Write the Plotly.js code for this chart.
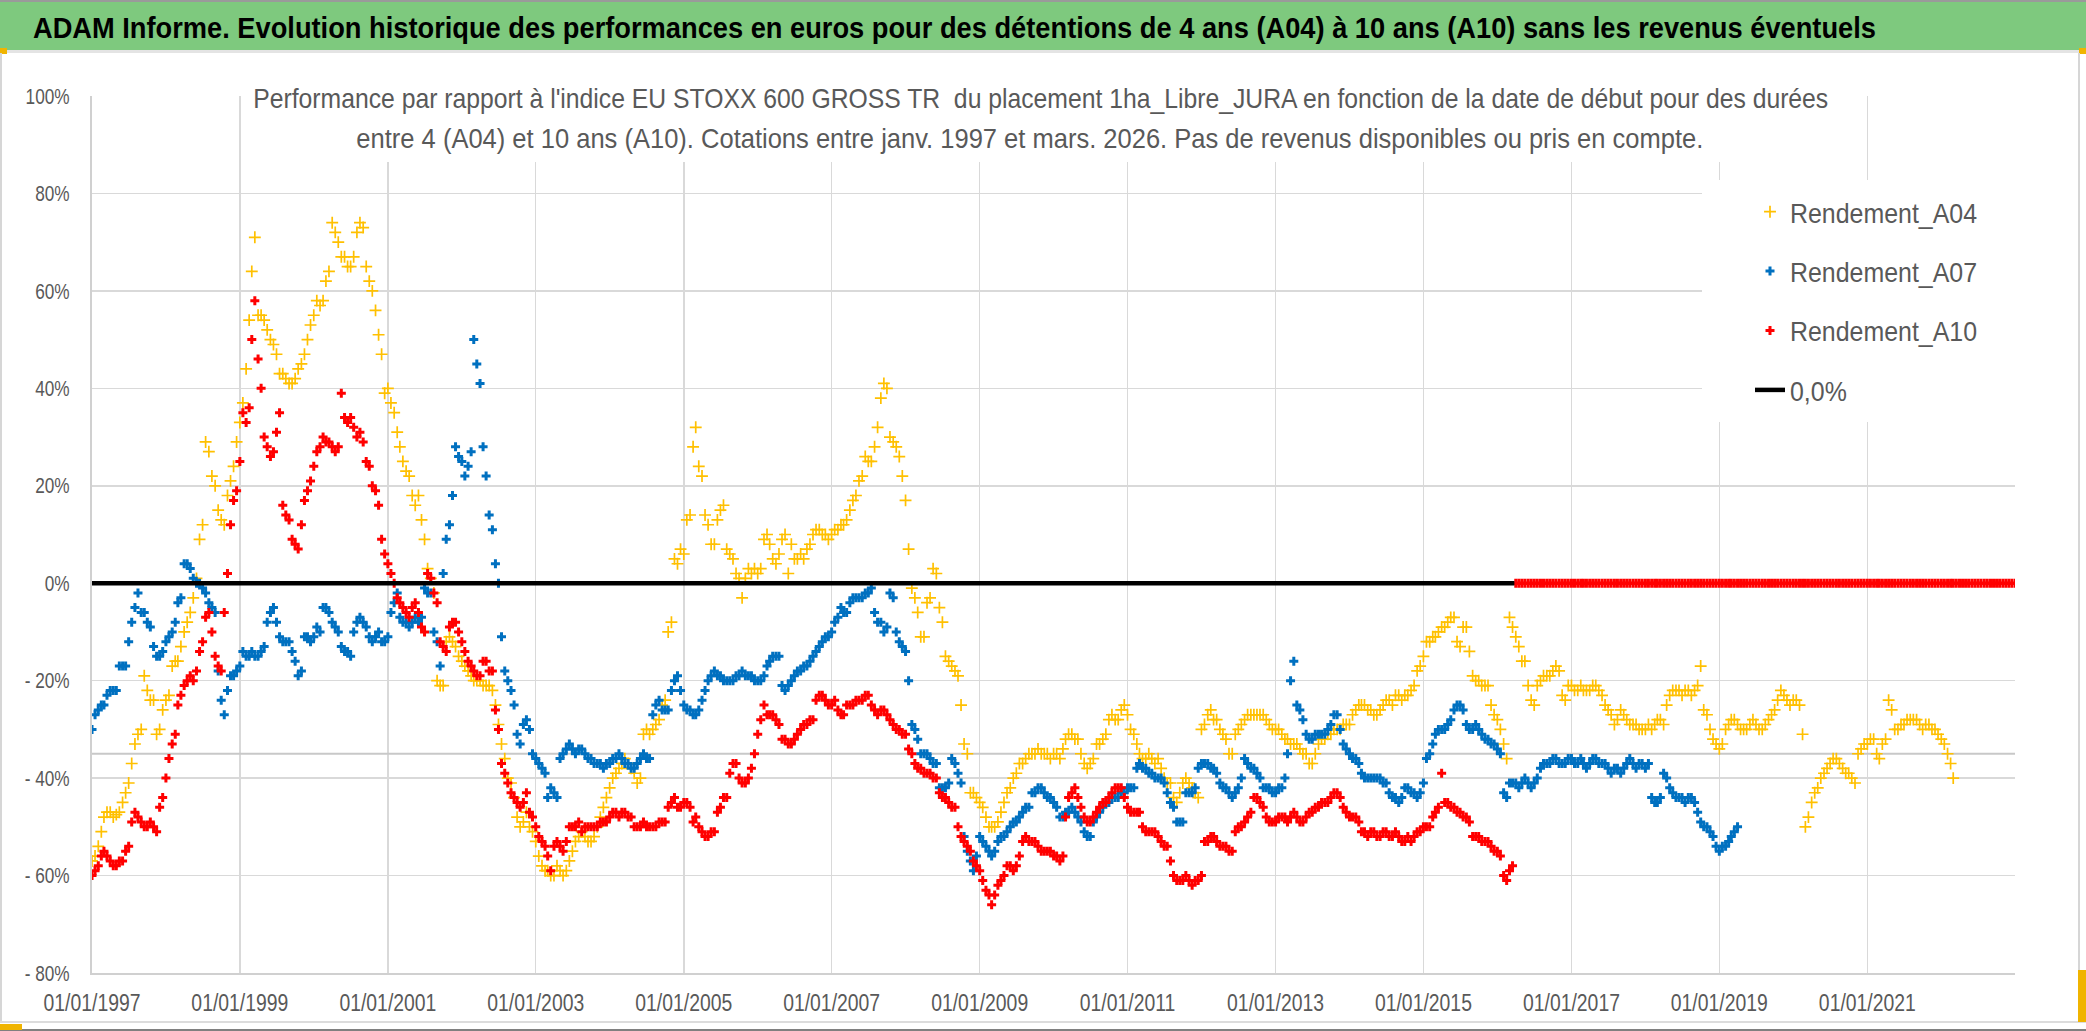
<!DOCTYPE html>
<html><head><meta charset="utf-8">
<script src="https://cdn.plot.ly/plotly-3.0.1.min.js"></script>
<style>html,body{margin:0;padding:0;background:#fff;} #chart{width:2086px;height:1031px;}</style>
</head><body><div id="chart"></div>
<script>
// ---------- DATA (half-monthly readings: 1st and 16th of each month, in %) ----------
const startYear = 1997;               // first reading = 1 January 1997
const seriesNames = ['Rendement_A04', 'Rendement_A07', 'Rendement_A10', '0,0%'];

const a04 = [
 -57,-56,-54,-51,-48,-47,-47,-48,-47.5,-47,-45,-43,-41,-37,-33,-31,-30,-19,-22,-24,
 -24,-31,-30,-26,-24,-23,-17,-16,-16,-13,-10,-8,-6,-3,1,9,12,29,27,22,
 20,15,13,12,18,21,24,29,33,37,44,54,64,71,55,55,54,52,50,49,
 47,43,43,42,41,41,42,44,45,47,50,53,55,58,57,58,62,64,74,72,
 70,67,67,65,65,67,72,74,73,65,62,60,56,51,47,39,40,37,35,31,
 28,25,23,22,18,16,18,13,9,3,1,-2,-20,-21,-21,-12,-11,-12,-13,-15,
 -16,-17,-18,-19,-20,-20,-20,-21,-21,-21,-22,-25,-29,-33,-36,-40,-41,-44,-48,-50,
 -49,-47,-50,-51,-53,-56,-58,-59,-59,-60,-60,-58,-59,-60,-59,-57,-55,-53,-52,-51,
 -52,-53,-53,-52,-50,-48,-46,-44,-42,-40,-39,-38,-37,-36,-37,-38,-39,-41,-40,-31,
 -30,-31,-30,-29,-28,-25,-24,-10,-8,5,4,7,6,13,14,28,32,24,22,14,
 12,8,8,13,15,16,7,6,5,2,1,-3,1,3,2,3,2,3,9,10,
 8,5,4,6,9,10,2,8,5,5,6,5,7,8,10,11,11,10,10,9,
 10,11,11,12,12,13,15,17,18,21,22,26,25,25,28,32,38,41,40,30,
 29,28,26,22,17,7,-1,-3,-6,-11,-11,-4,-3,3,2,-5,-8,-15,-16,-17,
 -18,-19,-25,-33,-35,-43,-43,-44,-45,-46,-48,-50,-50,-50,-49,-47,-45,-43,-42,-40,
 -39,-37,-37,-36,-35,-35,-35,-34,-35,-35,-35,-36,-35,-35,-36,-34,-32,-31,-31,-32,
 -32,-35,-37,-38,-37,-36,-33,-33,-32,-31,-28,-27,-28,-28,-26,-25,-27,-30,-31,-33,
 -35,-36,-36,-35,-36,-37,-36,-38,-40,-41,-41,-44,-45,-43,-41,-40,-41,-42,-43,-44,
 -30,-29,-27,-26,-28,-28,-30,-31,-32,-35,-35,-31,-30,-29,-28,-27,-27,-27,-27,-27,
 -27,-28,-29,-30,-30,-30,-31,-32,-32,-33,-33,-33,-34,-35,-35,-37,-37,-35,-33,-32,
 -32,-31,-31,-30,-30,-30,-29,-29,-29,-27,-26,-25,-25,-25,-26,-26,-27,-27,-26,-25,
 -24,-24,-25,-23,-23,-24,-23,-23,-22,-21,-18,-17,-15,-12,-12,-11,-11,-10,-9,-9,
 -8,-7,-7,-12,-13,-9,-9,-14,-19,-20,-20,-21,-21,-21,-25,-27,-28,-30,-33,-36,
 -7,-9,-11,-13,-16,-16,-21,-24,-25,-21,-20,-19,-19,-19,-18,-17,-18,-23,-24,-21,
 -21,-22,-22,-21,-22,-22,-22,-21,-21,-22,-23,-25,-26,-27,-29,-28,-26,-27,-28,-29,
 -29,-29,-30,-30,-30,-29,-30,-29,-28,-28,-29,-25,-23,-22,-22,-22,-23,-22,-22,-23,
 -22,-21,-17,-26,-27,-30,-32,-33,-34,-33,-30,-29,-28,-28,-29,-30,-30,-30,-29,-28,
 -29,-30,-30,-29,-28,-27,-26,-24,-22,-23,-24,-25,-24,-24,-25,-31,-50,-48,-45,-43,
 -42,-40,-39,-38,-37,-36,-36,-37,-38,-39,-39,-40,-41,-35,-34,-33,-33,-32,-32,-35,
 -36,-33,-32,-24,-26,-30,-30,-29,-29,-28,-28,-28,-28,-29,-30,-29,-29,-30,-30,-31,
 -32,-33,-35,-37,-40
];

const a07 = [
 -30,-27,-26,-25,-25,-23,-22,-22,-22,-17,-17,-17,-12,-8,-5,-2,-6,-6,-8,-9,
 -13,-15,-15,-14,-12,-11,-10,-8,-4,-3,4,4,3,1,0,0,-1,-2,-4,-5,
 -6,-18,-24,-27,-22,-19,-19,-18,-17,-14,-15,-15,-14,-15,-15,-14,-13,-8,-6,-5,
 -8,-11,-12,-12,-12,-14,-16,-19,-18,-11,-11,-12,-11,-9,-10,-5,-5,-6,-8,-9,
 -10,-13,-14,-14,-15,-10,-8,-7,-8,-9,-11,-12,-11,-10,-12,-12,-11,-6,-4,-2,
 -7,-8,-8,-9,-8,-7,-8,-7,-1,-2,-2,-10,-12,-17,2,9,12,18,28,26,
 25,22,24,27,50,45,41,28,22,14,11,4,0,-11,-18,-20,-22,-25,-31,-33,
 -29,-28,-30,-35,-36,-37,-38,-39,-44,-42,-43,-44,-36,-35,-34,-33,-34,-35,-34,-34,
 -35,-36,-36,-37,-37,-37,-38,-37,-37,-36,-36,-35,-36,-37,-37,-38,-38,-37,-36,-35,
 -36,-36,-27,-25,-24,-26,-26,-26,-22,-20,-19,-22,-25,-26,-26,-27,-27,-26,-24,-22,
 -20,-19,-18,-19,-19,-20,-20,-20,-20,-19,-19,-18,-19,-19,-19,-20,-20,-20,-19,-17,
 -16,-15,-15,-15,-21,-22,-21,-20,-19,-18,-18,-17,-17,-16,-15,-14,-13,-12,-11,-11,
 -10,-8,-7,-5,-6,-6,-4,-3,-3,-3,-3,-2,-2,-1,-6,-8,-8,-10,-9,-2,
 -3,-10,-12,-13,-14,-20,-29,-30,-32,-35,-35,-35,-36,-37,-37,-42,-42,-42,-41,-36,
 -37,-39,-41,-52,-55,-57,-59,-56,-52,-53,-54,-55,-56,-55,-53,-52,-52,-51,-50,-49,
 -49,-48,-47,-46,-46,-43,-43,-42,-42,-43,-44,-44,-45,-46,-48,-48,-47,-47,-46,-47,
 -48,-49,-51,-52,-52,-49,-48,-47,-46,-45,-45,-44,-44,-44,-43,-43,-42,-42,-42,-38,
 -37,-38,-38,-39,-39,-40,-40,-40,-41,-43,-45,-46,-49,-49,-49,-43,-43,-43,-42,-38,
 -37,-37,-37,-38,-38,-39,-41,-42,-42,-43,-44,-43,-42,-40,-36,-37,-38,-38,-39,-40,
 -42,-42,-42,-43,-43,-42,-42,-40,-35,-20,-16,-25,-26,-28,-31,-32,-32,-31,-31,-31,
 -31,-30,-29,-27,-27,-30,-33,-34,-35,-36,-36,-37,-39,-40,-40,-40,-40,-40,-40,-41,
 -41,-43,-44,-44,-45,-44,-42,-42,-43,-43,-44,-43,-41,-36,-35,-33,-31,-30,-30,-30,
 -29,-28,-26,-25,-25,-26,-29,-30,-30,-29,-30,-31,-32,-32,-33,-33,-34,-35,-43,-44,
 -41,-41,-41,-42,-41,-40,-41,-42,-41,-40,-38,-37,-37,-37,-36,-36,-37,-37,-37,-36,
 -36,-37,-37,-36,-37,-38,-37,-36,-36,-37,-37,-37,-38,-39,-38,-38,-39,-38,-37,-36,
 -37,-38,-37,-37,-38,-37,-44,-45,-45,-44,-39,-40,-42,-43,-44,-44,-44,-45,-44,-44,
 -45,-47,-49,-50,-50,-51,-52,-54,-55,-54,-54,-53,-52,-51,-50
];

const a10 = [
 -60,-59,-58,-56,-55,-56,-57,-58,-58,-57,-57,-55,-54,-49,-47,-48,-49,-50,-50,-49,
 -50,-51,-46,-44,-40,-36,-33,-31,-25,-23,-21,-20,-19,-20,-18,-14,-12,-7,-6,-10,
 -15,-17,-18,-6,2,12,17,19,25,35,33,36,50,58,46,40,30,28,26,27,
 31,35,16,14,13,9,8,7,12,17,19,21,24,27,28,30,29,29,28,27,
 28,39,34,33,34,32,30,31,29,25,24,20,19,16,9,6,4,2,0,-3,
 -4,-5,-6,-7,-5,-4,-6,-9,-10,2,1,-2,-4,-12,-13,-14,-9,-8,-8,-10,
 -12,-14,-16,-17,-18,-19,-19,-16,-16,-18,-18,-26,-30,-37,-39,-41,-43,-44,-45,-46,
 -45,-43,-47,-48,-50,-52,-53,-54,-56,-59,-54,-53,-54,-55,-53,-50,-50,-50,-49,-51,
 -50,-50,-50,-50,-50,-49,-49,-49,-48,-47,-47,-48,-47,-47,-48,-48,-50,-50,-50,-49,
 -50,-50,-50,-50,-49,-49,-49,-46,-45,-44,-46,-46,-45,-45,-46,-49,-48,-50,-51,-52,
 -52,-51,-51,-47,-46,-44,-44,-39,-37,-37,-40,-41,-41,-40,-38,-35,-31,-28,-25,-27,
 -27,-27,-28,-29,-32,-32,-33,-33,-32,-31,-30,-29,-29,-28,-28,-24,-23,-23,-24,-25,
 -25,-24,-26,-27,-27,-25,-25,-25,-24,-24,-24,-23,-23,-25,-26,-27,-26,-26,-27,-28,
 -29,-30,-30,-31,-31,-34,-35,-37,-38,-38,-39,-39,-39,-40,-40,-43,-44,-44,-45,-46,
 -46,-50,-52,-53,-54,-55,-57,-58,-59,-61,-63,-64,-66,-64,-62,-61,-60,-58,-58,-59,
 -58,-56,-53,-52,-53,-53,-53,-54,-55,-55,-55,-55,-56,-56,-57,-56,-48,-44,-43,-42,
 -44,-46,-48,-49,-49,-48,-47,-46,-45,-45,-44,-43,-42,-42,-42,-44,-46,-47,-47,-47,
 -47,-50,-51,-51,-51,-51,-52,-53,-54,-54,-57,-60,-61,-61,-61,-60,-61,-62,-61,-61,
 -60,-53,-53,-52,-52,-53,-54,-54,-54,-55,-55,-51,-50,-50,-49,-48,-47,-44,-44,-45,
 -46,-48,-49,-49,-49,-48,-48,-48,-49,-48,-47,-48,-49,-49,-48,-47,-47,-46,-46,-45,
 -45,-45,-44,-43,-43,-44,-46,-47,-48,-48,-48,-49,-51,-51,-52,-51,-51,-52,-52,-51,
 -51,-52,-52,-51,-52,-53,-53,-52,-53,-52,-51,-51,-50,-50,-50,-48,-47,-46,-39,-45,
 -45,-46,-46,-47,-47,-48,-48,-49,-52,-52,-52,-53,-53,-53,-54,-55,-55,-56,-60,-61,
 -59,-58,
 0,0,0,0,0,0,0,0,0,0,0,0,0,0,0,0,0,0,0,0,
 0,0,0,0,0,0,0,0,0,0,0,0,0,0,0,0,0,0,0,0,
 0,0,0,0,0,0,0,0,0,0,0,0,0,0,0,0,0,0,0,0,
 0,0,0,0,0,0,0,0,0,0,0,0,0,0,0,0,0,0,0,0,
 0,0,0,0,0,0,0,0,0,0,0,0,0,0,0,0,0,0,0,0,
 0,0,0,0,0,0,0,0,0,0,0,0,0,0,0,0,0,0,0,0,
 0,0,0,0,0,0,0,0,0,0,0,0,0,0,0,0,0,0,0,0,
 0,0,0,0,0,0,0,0,0,0,0,0,0,0,0,0,0,0,0,0,
 0,0,0
];

const zeroLineDates = ['1997-01-01', '2016-03-25'];
const zeroLineValues = [0, 0];
const refLineDates = ['1997-01-01', '2023-01-01'];
const refLineValues = [-35, -35];

const xRange = ['1997-01-01', '2022-12-31'];
const yTickVals = [-80, -60, -40, -20, 0, 20, 40, 60, 80, 100];
const yTickText = ['- 80%', '- 60%', '- 40%', '- 20%', '0%', '20%', '40%', '60%', '80%', '100%'];

const titleText = "ADAM Informe. Evolution historique des performances en euros pour des détentions de 4 ans (A04) à 10 ans (A10) sans les revenus éventuels";
const subLine1 = "Performance par rapport à l'indice EU STOXX 600 GROSS TR  du placement 1ha_Libre_JURA en fonction de la date de début pour des durées";
const subLine2 = "entre 4 (A04) et 10 ans (A10). Cotations entre janv. 1997 et mars. 2026. Pas de revenus disponibles ou pris en compte.";

// ---------- helpers ----------
function halfMonthDates(n) {
  const out = [];
  for (let k = 0; k < n; k++) {
    const y = startYear + Math.floor(k / 24);
    const mo = Math.floor((k % 24) / 2) + 1;
    const d = (k % 2) ? '16' : '01';
    out.push(y + '-' + String(mo).padStart(2, '0') + '-' + d);
  }
  return out;
}
const W = 2086, H = 1031;
const M = {l: 92, r: 71, t: 96, b: 58};
const PW = W - M.l - M.r, PH = H - M.t - M.b;
const px = v => (v - M.l) / PW;          // pixel x -> paper
const py = v => (H - M.b - v) / PH;      // pixel y -> paper

const FN = "'Liberation Sans', Arial, sans-serif";
const GREY = '#595959';

const traces = [
  {x: refLineDates, y: refLineValues, mode: 'lines', line: {color: '#c8c8c8', width: 2},
   showlegend: false, hoverinfo: 'skip'},
  {name: seriesNames[0], x: halfMonthDates(a04.length), y: a04, mode: 'markers', type: 'scatter',
   legendgroup: 'g1',
   marker: {symbol: 'cross-thin-open', size: 8.5, color: '#FFC000', line: {color: '#FFC000', width: 1.7}}},
  {name: seriesNames[1], x: halfMonthDates(a07.length), y: a07, mode: 'markers', type: 'scatter',
   legendgroup: 'g2',
   marker: {symbol: 'cross', size: 7.5, color: '#0070C0', line: {width: 0}}},
  {name: seriesNames[2], x: halfMonthDates(a10.length), y: a10, mode: 'markers', type: 'scatter',
   legendgroup: 'g3',
   marker: {symbol: 'cross', size: 7.5, color: '#FF0000', line: {width: 0}}},
  {name: seriesNames[3], x: zeroLineDates, y: zeroLineValues, mode: 'lines', type: 'scatter',
   legendgroup: 'g4',
   line: {color: '#000000', width: 4.5}}
];

const shapes = [
  // top frame line + green banner
  {type: 'rect', xref: 'paper', yref: 'paper', x0: px(0), x1: px(W), y0: py(2), y1: py(0),
   fillcolor: '#9a9a9a', line: {width: 0}},
  {type: 'rect', xref: 'paper', yref: 'paper', x0: px(0), x1: px(W), y0: py(50), y1: py(2),
   fillcolor: '#7ec97e', line: {width: 0}},
  {type: 'rect', xref: 'paper', yref: 'paper', x0: px(0), x1: px(W), y0: py(53), y1: py(50),
   fillcolor: '#e4e4e4', line: {width: 0}},
  {type: 'rect', xref: 'paper', yref: 'paper', x0: px(0), x1: px(7), y0: py(54), y1: py(48),
   fillcolor: '#f0b400', line: {width: 0}},
  {type: 'rect', xref: 'paper', yref: 'paper', x0: px(W - 7), x1: px(W), y0: py(54), y1: py(48),
   fillcolor: '#f0b400', line: {width: 0}},
  // outer frame
  {type: 'line', xref: 'paper', yref: 'paper', x0: px(1), x1: px(1), y0: py(1022), y1: py(53),
   line: {color: '#d6d6d6', width: 2}},
  {type: 'line', xref: 'paper', yref: 'paper', x0: px(2079), x1: px(2079), y0: py(1022), y1: py(53),
   line: {color: '#d6d6d6', width: 2}},
  {type: 'line', xref: 'paper', yref: 'paper', x0: px(0), x1: px(W), y0: py(1022), y1: py(1022),
   line: {color: '#dcdcdc', width: 2}},
  {type: 'line', xref: 'paper', yref: 'paper', x0: px(0), x1: px(W), y0: py(1030), y1: py(1030),
   line: {color: '#808080', width: 2}},
  {type: 'rect', xref: 'paper', yref: 'paper', x0: px(0), x1: px(22), y0: py(1030), y1: py(1024),
   fillcolor: '#f0b400', line: {width: 0}},
  {type: 'rect', xref: 'paper', yref: 'paper', x0: px(2078), x1: px(W), y0: py(1022), y1: py(970),
   fillcolor: '#f0b400', line: {width: 0}},
  // white boxes behind subtitle and legend
  {type: 'rect', xref: 'paper', yref: 'paper', x0: px(247), x1: px(1836), y0: py(162), y1: py(76),
   fillcolor: '#ffffff', line: {width: 0}, layer: 'above'},
  {type: 'rect', xref: 'paper', yref: 'paper', x0: px(1702), x1: px(2016), y0: py(422), y1: py(180),
   fillcolor: '#ffffff', line: {width: 0}, layer: 'above'}
];

// reference widths (px) of texts, used to condense the glyphs like the original narrow font
const titleBox = {left: 33, right: 1876, cy: 27};
const sub1Box = {left: 253, right: 1828, cy: 98};
const sub2Box = {left: 356, right: 1703, cy: 139};

const annotations = [
  {xref: 'paper', yref: 'paper', x: px((titleBox.left + titleBox.right) / 2), y: py(titleBox.cy),
   xanchor: 'center', yanchor: 'middle', text: titleText, showarrow: false,
   font: {family: FN, size: 30, color: '#000000', weight: 700}},
  {xref: 'paper', yref: 'paper', x: px((sub1Box.left + sub1Box.right) / 2), y: py(sub1Box.cy),
   xanchor: 'center', yanchor: 'middle', text: subLine1, showarrow: false,
   font: {family: FN, size: 27.5, color: GREY}},
  {xref: 'paper', yref: 'paper', x: px((sub2Box.left + sub2Box.right) / 2), y: py(sub2Box.cy),
   xanchor: 'center', yanchor: 'middle', text: subLine2, showarrow: false,
   font: {family: FN, size: 27.5, color: GREY}}
];

const layout = {
  width: W, height: H, margin: M,
  paper_bgcolor: '#ffffff', plot_bgcolor: '#ffffff',
  showlegend: true,
  legend: {x: px(1750), y: py(187), xanchor: 'left', yanchor: 'top',
           bgcolor: 'rgba(0,0,0,0)', font: {family: FN, size: 28, color: GREY},
           tracegroupgap: 20, traceorder: 'grouped'},
  xaxis: {type: 'date', range: xRange, tick0: '1997-01-01', dtick: 'M24', tickformat: '%d/%m/%Y',
          showgrid: true, gridcolor: '#d9d9d9', gridwidth: 1.5, zeroline: false,
          showline: true, linecolor: '#d0d0d0', linewidth: 2, ticks: '',
          tickfont: {family: FN, size: 23.5, color: GREY}, ticklabelstandoff: 8, fixedrange: true},
  yaxis: {range: [-80, 100], tickvals: yTickVals, ticktext: yTickText,
          showgrid: true, gridcolor: '#d9d9d9', gridwidth: 1.5, zeroline: false,
          showline: true, linecolor: '#d0d0d0', linewidth: 2, ticks: '',
          tickfont: {family: FN, size: 22, color: GREY}, ticklabelstandoff: 16, fixedrange: true},
  shapes: shapes,
  annotations: annotations
};

function condense(el, target) {
  const w = el.getComputedTextLength();
  if (w > target) {
    el.setAttribute('textLength', target);
    el.setAttribute('lengthAdjust', 'spacingAndGlyphs');
  }
}
function condenseBy(el, f) {
  const w = el.getComputedTextLength();
  el.setAttribute('textLength', w * f);
  el.setAttribute('lengthAdjust', 'spacingAndGlyphs');
}

Plotly.newPlot('chart', traces, layout, {displayModeBar: false, staticPlot: true}).then(gd => {
  const ann = gd.querySelectorAll('.annotation-text');
  const boxes = [titleBox, sub1Box, sub2Box];
  ann.forEach((el, i) => { if (boxes[i]) condense(el, boxes[i].right - boxes[i].left); });
  const leg = gd.querySelectorAll('.legendtext');
  if (leg.length) {
    const f = 187 / leg[0].getComputedTextLength();
    if (f < 1) leg.forEach(el => condenseBy(el, f));
  }
  const xt = gd.querySelectorAll('.xtick text');
  if (xt.length) {
    const f = 97 / xt[0].getComputedTextLength();
    if (f < 1) xt.forEach(el => condenseBy(el, f));
  }
  const yt = Array.from(gd.querySelectorAll('.ytick text'));
  const y100 = yt.find(el => el.textContent === '100%');
  if (y100) {
    const f = 44 / y100.getComputedTextLength();
    if (f < 1) yt.forEach(el => condenseBy(el, f));
  }
});
</script>
</body></html>
